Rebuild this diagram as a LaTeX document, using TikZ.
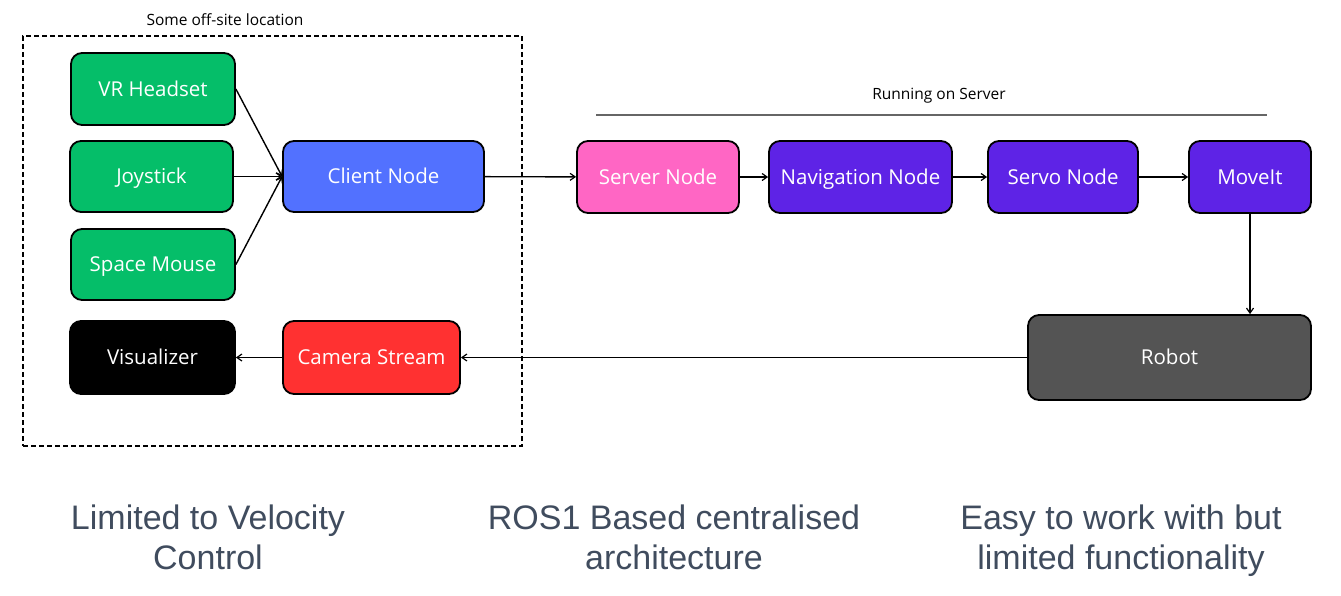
\documentclass[tikz,border=0pt]{standalone}
\usepackage{fontspec}
\setmainfont{Open Sans}
\newfontfamily\bottomfont{Liberation Sans}
\usetikzlibrary{arrows.meta}
\definecolor{cgreen}{RGB}{5,190,105}
\definecolor{cblue}{RGB}{82,113,255}
\definecolor{cpink}{RGB}{255,102,196}
\definecolor{cpurple}{RGB}{94,35,230}
\definecolor{cred}{RGB}{255,49,49}
\definecolor{cgray}{RGB}{84,84,84}
\definecolor{ctext}{RGB}{64,76,94}
\begin{document}
\begin{tikzpicture}[x=1pt,y=-1pt,
  box/.style={draw=black,line width=1.8pt,rounded corners=11pt,text=white,
    font=\fontsize{20.5}{24}\selectfont,inner sep=0pt,text height=14.5pt,text depth=0pt},
  conn/.style={line width=1.4pt,-{Straight Barb[length=5pt,width=7pt,line width=1.2pt]}},
  smalltxt/.style={font=\fontsize{15.5}{18}\selectfont},
  bottomtxt/.style={font=\bottomfont\fontsize{34}{40}\selectfont,text=ctext,align=center,inner sep=0pt}]
\useasboundingbox (0,0) rectangle (1341,595);
% dashed region
\node[draw=black,dash pattern=on 5pt off 3pt,line width=1.4pt,minimum width=499pt,minimum height=410pt,inner sep=0pt] (region) at (272.5,241) {};
\node[smalltxt] (regionlabel) at (225,20) {Some off-site location};
% left nodes
\node[box,fill=cgreen,minimum width=164pt,minimum height=72pt] (vr) at (153,89) {VR Headset};
\node[box,fill=cgreen,minimum width=163pt,minimum height=71pt] (joy) at (151.5,176.5) {Joystick};
\node[box,fill=cgreen,minimum width=164pt,minimum height=71pt] (sm) at (153,264.5) {Space Mouse};
\node[box,fill=black,minimum width=165pt,minimum height=73pt] (vis) at (152.5,357.5) {Visualizer};
\node[box,fill=cblue,minimum width=201pt,minimum height=71pt] (client) at (383.5,176.5) {Client Node};
\node[box,fill=cred,minimum width=177pt,minimum height=73pt] (cam) at (371.5,357.5) {Camera Stream};
% server nodes
\node[smalltxt] (serverlabel) at (939,96) {Running on Server};
\coordinate (sl1) at (596,115);
\coordinate (sl2) at (1267,115);
\draw[line width=1.2pt,black!60] (sl1) -- (sl2);
\node[box,fill=cpink,minimum width=162pt,minimum height=72pt] (server) at (658,177) {Server Node};
\node[box,fill=cpurple,minimum width=183pt,minimum height=72pt] (nav) at (860.5,177) {Navigation Node};
\node[box,fill=cpurple,minimum width=150pt,minimum height=72pt] (servo) at (1063,177) {Servo Node};
\node[box,fill=cpurple,minimum width=122pt,minimum height=72pt] (moveit) at (1250,177) {MoveIt};
\node[box,fill=cgray,minimum width=283pt,minimum height=85pt] (robot) at (1169.5,357.5) {Robot};
% connectors
\draw[conn] (vr.east) -- (client.west);
\draw[conn] (joy.east) -- (client.west);
\draw[conn] (sm.east) -- (client.west);
\draw[conn] (client) -- (server);
\draw[conn] (server) -- (nav);
\draw[conn] (nav) -- (servo);
\draw[conn] (servo) -- (moveit);
\draw[conn] (moveit) -- (moveit |- robot.north);
\draw[conn] (robot) -- (cam);
\draw[conn] (cam) -- (vis);
% bottom texts
\node[bottomtxt] (t1) at (208,541) {Limited to Velocity\strut\\Control\strut};
\node[bottomtxt] (t2) at (674,541) {ROS1 Based centralised\strut\\architecture\strut};
\node[bottomtxt] (t3) at (1121,541) {Easy to work with but\strut\\limited functionality\strut};
\end{tikzpicture}
\end{document}
